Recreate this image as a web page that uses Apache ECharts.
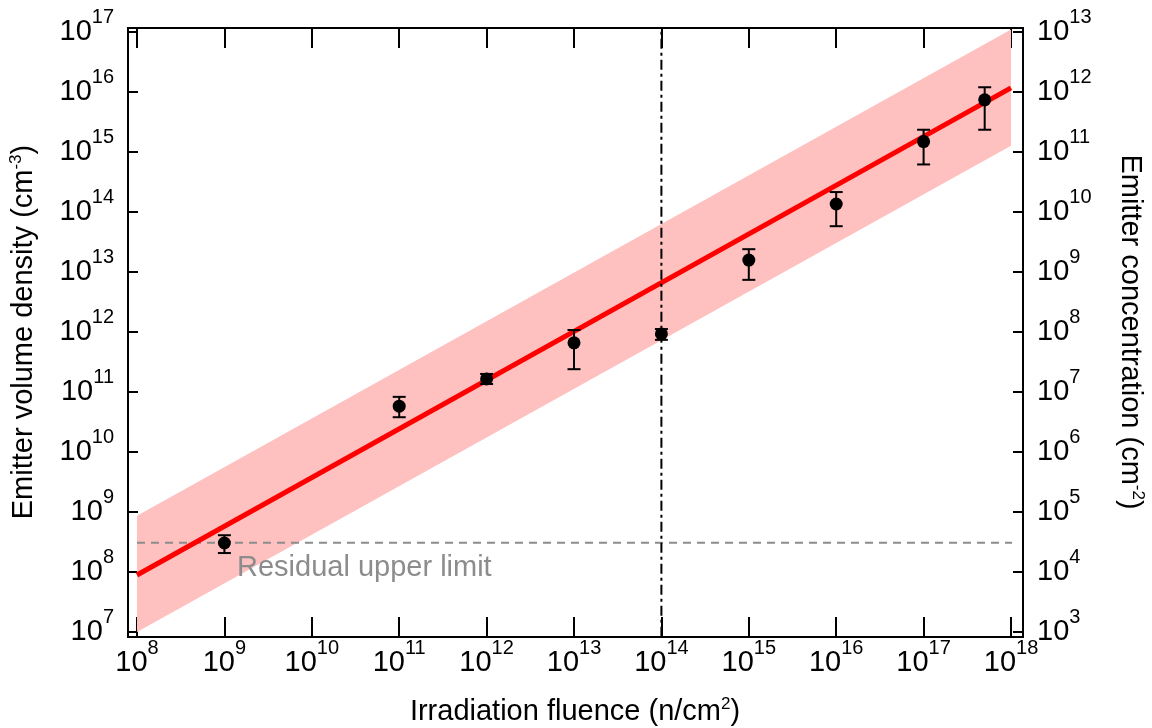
<!DOCTYPE html>
<html><head><meta charset="utf-8">
<script src="https://cdn.jsdelivr.net/npm/echarts@6/dist/echarts.min.js"></script>
<style>html,body{margin:0;padding:0;background:#fff}#c{width:1152px;height:728px}</style>
</head><body><div id="c"></div>
<script>
// ---- data ----
const fluence = [1e9, 1e11, 1e12, 1e13, 1e14, 1e15, 1e16, 1e17, 5e17];
const density = [3.04e8, 5.8e10, 1.65e11, 6.6e11, 9.3e11, 1.58e13, 1.36e14, 1.49e15, 7.4e15];
const errLow  = [2.07e8, 3.8e10, 1.36e11, 2.4e11, 7.4e11, 7.4e12, 5.8e13, 6.2e14, 2.35e15];
const errHigh = [4.1e8, 8.3e10, 2.0e11, 1.08e12, 1.12e12, 2.4e13, 2.15e14, 2.35e15, 1.2e16];
const fitX = [1e8, 1e18];
const fitY = [8.9e7, 1.17e16];
const bandLow = [1.0e7, 1.27e15];
const bandHigh = [8.7e8, 1.1e17];
const residualLimit = 3.08e8;
const residualX = [1e8, 1.37e18];
const markerFluence = 1e14;
const markerY = [8.3e6, 1.16e17];
const xRange = [1e8, 1e18];
const yLeftRange = [1e7, 1e17];
const yRightRange = [1e3, 1e13];

// ---- chart ----
const FONT = '"Liberation Sans", Arial, Helvetica, sans-serif';
const tickRich = {
  b: {fontSize: 29, fontFamily: FONT, color: '#000', lineHeight: 50, verticalAlign: 'middle'},
  s: {fontSize: 20, fontFamily: FONT, color: '#000', lineHeight: 20, verticalAlign: 'top'}
};
const titleRich = {
  t: {fontSize: 29, fontFamily: FONT, color: '#000', lineHeight: 40, verticalAlign: 'middle'},
  s: {fontSize: 17, fontFamily: FONT, color: '#000', lineHeight: 17, verticalAlign: 'top', padding: [4, 0, 0, 0]}
};
function expLabel(v) {
  const e = Math.round(Math.log10(v));
  return '{b|10}{s|' + e + '}';
}
const tickStyle = {color: '#000', width: 2};

const chart = echarts.init(document.getElementById('c'), null, {renderer: 'canvas'});
chart.setOption({
  animation: false,
  backgroundColor: '#fff',
  grid: {left: 137, right: 141, top: 32, bottom: 96},
  xAxis: [
    {type: 'log', logBase: 10, min: xRange[0], max: xRange[1], interval: 1, position: 'bottom', offset: 5,
     axisLine: {show: false}, splitLine: {show: false},
     axisTick: {inside: true, length: 20, lineStyle: tickStyle},
     axisLabel: {formatter: expLabel, rich: tickRich, margin: 1}},
    {type: 'log', logBase: 10, min: xRange[0], max: xRange[1], interval: 1, position: 'top', offset: 4,
     axisLine: {show: false}, splitLine: {show: false},
     axisTick: {inside: true, length: 20, lineStyle: tickStyle},
     axisLabel: {show: false}}
  ],
  yAxis: [
    {type: 'log', logBase: 10, min: yLeftRange[0], max: yLeftRange[1], interval: 1, position: 'left', offset: 9,
     axisLine: {show: false}, splitLine: {show: false},
     axisTick: {inside: true, length: 10, lineStyle: tickStyle},
     axisLabel: {formatter: expLabel, rich: tickRich, margin: 14}},
    {type: 'log', logBase: 10, min: yRightRange[0], max: yRightRange[1], interval: 1, position: 'right', offset: 12,
     axisLine: {show: false}, splitLine: {show: false},
     axisTick: {inside: true, length: 10, lineStyle: tickStyle},
     axisLabel: {formatter: expLabel, rich: tickRich, margin: 14}}
  ],
  graphic: [
    {type: 'rect', z: 100, silent: true, shape: {x: 128, y: 28, width: 895, height: 609},
     style: {fill: 'none', stroke: '#000', lineWidth: 2}},
    {type: 'text', z: 100, x: 24, y: 332, rotation: Math.PI / 2,
     style: {text: '{t|Emitter volume density (cm}{s|-3}{t|)}', rich: titleRich, align: 'center', verticalAlign: 'middle'}},
    {type: 'text', z: 100, x: 1130, y: 332, rotation: -Math.PI / 2,
     style: {text: '{t|Emitter concentration (cm}{s|-2}{t|)}', rich: titleRich, align: 'center', verticalAlign: 'middle'}},
    {type: 'text', z: 100, x: 575, y: 712,
     style: {text: '{t|Irradiation fluence (n/cm}{s|2}{t|)}', rich: titleRich, align: 'center', verticalAlign: 'middle'}},
    {type: 'text', z: 100, x: 237, y: 568,
     style: {text: 'Residual upper limit', fill: '#8c8c8c', font: '29px ' + FONT, align: 'left', verticalAlign: 'middle'}}
  ],
  series: [
    {type: 'custom', name: 'band', silent: true, clip: false, z: 1,
     data: [[fitX[0], bandLow[0]]],
     renderItem: function (params, api) {
       const pts = [];
       for (let i = 0; i < fitX.length; i++) pts.push(api.coord([fitX[i], bandHigh[i]]));
       for (let i = fitX.length - 1; i >= 0; i--) pts.push(api.coord([fitX[i], bandLow[i]]));
       return {type: 'polygon', shape: {points: pts}, style: {fill: '#ffc0c0'}};
     }},
    {type: 'line', name: 'residual', silent: true, clip: false, z: 2, symbol: 'none',
     data: residualX.map(x => [x, residualLimit]),
     lineStyle: {color: '#8c8c8c', width: 2, type: [8, 6]}},
    {type: 'line', name: 'fit', silent: true, clip: false, z: 3, symbol: 'none',
     data: fitX.map((x, i) => [x, fitY[i]]),
     lineStyle: {color: '#ff0000', width: 5}},
    {type: 'line', name: 'marker', silent: true, clip: false, z: 4, symbol: 'none',
     data: markerY.map(y => [markerFluence, y]),
     lineStyle: {color: '#000', width: 2, type: [10, 4, 3, 4]}},
    {type: 'custom', name: 'errors', silent: true, clip: false, z: 5,
     data: fluence.map((x, i) => [x, errLow[i], errHigh[i]]),
     renderItem: function (params, api) {
       const lo = api.coord([api.value(0), api.value(1)]);
       const hi = api.coord([api.value(0), api.value(2)]);
       const w = 6.5;
       const st = {stroke: '#000', lineWidth: 2, fill: 'none'};
       return {type: 'group', children: [
         {type: 'line', shape: {x1: lo[0], y1: lo[1], x2: hi[0], y2: hi[1]}, style: st},
         {type: 'line', shape: {x1: lo[0] - w, y1: lo[1], x2: lo[0] + w, y2: lo[1]}, style: st},
         {type: 'line', shape: {x1: hi[0] - w, y1: hi[1], x2: hi[0] + w, y2: hi[1]}, style: st}
       ]};
     }},
    {type: 'scatter', name: 'data', silent: true, z: 6, symbol: 'circle', symbolSize: 13,
     itemStyle: {color: '#000', opacity: 1},
     data: fluence.map((x, i) => [x, density[i]])}
  ]
});
</script></body></html>
